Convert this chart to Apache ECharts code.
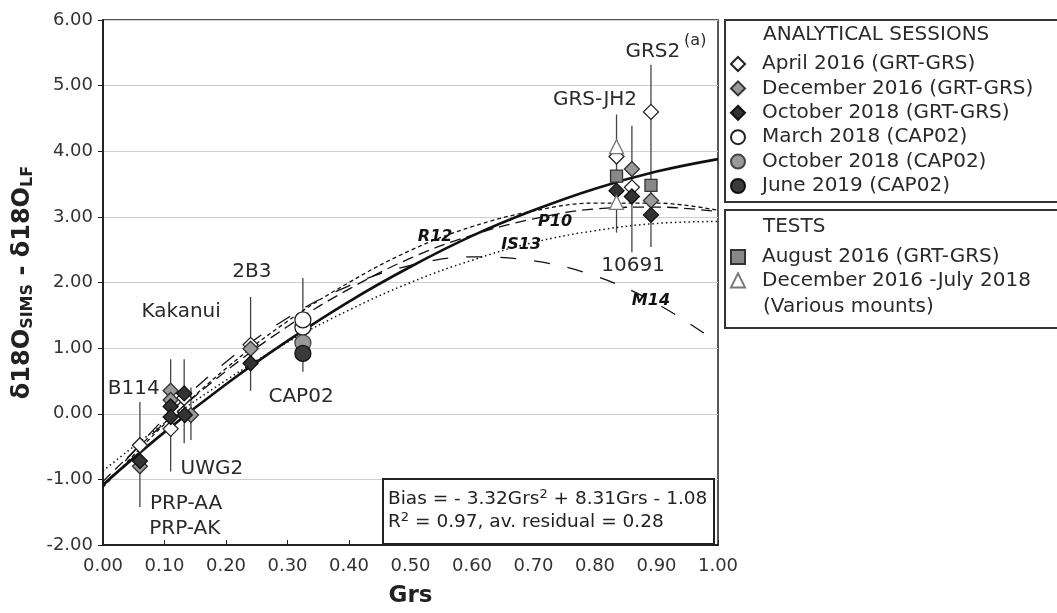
<!DOCTYPE html>
<html>
<head>
<meta charset="utf-8">
<script src="https://cdn.jsdelivr.net/npm/echarts@6/dist/echarts.min.js"></script>
<style>
html, body { margin: 0; padding: 0; background: #fff; }
#chart { width: 1057px; height: 613px; }
</style>
</head>
<body>
<div id="chart"></div>
<script>
var FONT = 'DejaVu Sans';

// axis ticks
var xTicks = [0, 0.1, 0.2, 0.3, 0.4, 0.5, 0.6, 0.7, 0.8, 0.9, 1.0];
var yTicks = [-2, -1, 0, 1, 2, 3, 4, 5, 6];

// curves at Grs = 0, 0.1 ... 1.0
var grsSteps = [0, 0.1, 0.2, 0.3, 0.4, 0.5, 0.6, 0.7, 0.8, 0.9, 1.0];
var biasFit = [-1.08, -0.28, 0.45, 1.11, 1.71, 2.24, 2.71, 3.10, 3.43, 3.69, 3.88];
var r12 = [-1.12, -0.16, 0.69, 1.41, 2.00, 2.49, 2.85, 3.09, 3.21, 3.21, 3.10];
var p10 = [-1.03, -0.14, 0.65, 1.33, 1.90, 2.37, 2.72, 2.97, 3.12, 3.15, 3.08];
var is13 = [-0.87, -0.14, 0.51, 1.09, 1.58, 2.00, 2.34, 2.61, 2.79, 2.90, 2.93];
var m14 = [-1.11, -0.07, 0.79, 1.46, 1.95, 2.26, 2.39, 2.33, 2.10, 1.68, 1.08];

// analytical sessions  [Grs, bias]
var apr2016 = [[0.06, -0.48], [0.11, -0.23], [0.132, 0.24], [0.24, 1.05], [0.835, 3.92], [0.86, 3.45], [0.891, 4.60]];
var dec2016 = [[0.06, -0.80], [0.11, 0.35], [0.11, 0.21], [0.143, -0.02], [0.24, 0.99], [0.86, 3.73], [0.891, 3.25]];
var oct2018g = [[0.06, -0.72], [0.11, 0.11], [0.11, -0.05], [0.132, 0.31], [0.133, -0.02], [0.24, 0.77], [0.835, 3.40], [0.86, 3.31], [0.891, 3.03]];
var mar2018 = [[0.325, 1.32], [0.325, 1.43]];
var oct2018c = [[0.325, 1.08]];
var jun2019 = [[0.325, 0.92]];
// tests
var aug2016 = [[0.835, 3.62], [0.891, 3.48]];
var mounts = [[0.835, 4.07], [0.835, 3.22]];

// error bars [Grs, low, high]
var errorBars = [[0.06, -1.42, 0.18], [0.11, -0.88, 0.83], [0.132, -0.45, 0.83], [0.143, -0.40, 0.40],
  [0.24, 0.35, 1.78], [0.325, 0.64, 2.07], [0.835, 2.76, 4.56], [0.86, 2.46, 4.39], [0.891, 2.54, 5.32]];

// text annotations [text, Grs, bias]
var sampleLabels = [['GRS2', 0.894, 5.51], ['GRS-JH2', 0.80, 4.78], ['10691', 0.862, 2.25], ['2B3', 0.242, 2.16],
  ['Kakanui', 0.127, 1.56], ['B114', 0.05, 0.38], ['UWG2', 0.177, -0.84], ['PRP-AA', 0.135, -1.37],
  ['PRP-AK', 0.133, -1.75], ['CAP02', 0.322, 0.26]];
var curveLabels = [['R12', 0.54, 2.70], ['P10', 0.735, 2.93], ['IS13', 0.68, 2.58], ['M14', 0.891, 1.72]];
var panelLabel = ['(a)', 0.963, 5.68];

var sessionNames = ['April 2016 (GRT-GRS)', 'December 2016 (GRT-GRS)', 'October 2018 (GRT-GRS)',
  'March 2018 (CAP02)', 'October 2018 (CAP02)', 'June 2019 (CAP02)'];
var testNames = ['August 2016 (GRT-GRS)', 'December 2016 -July 2018 (Various mounts)'];

function zip(xs, ys) {
  return xs.map(function (x, i) { return [x, ys[i]]; });
}

function curve(name, ys, width, dash) {
  return {
    name: name, type: 'line', data: zip(grsSteps, ys), smooth: 0.4, symbol: 'none', z: 2,
    lineStyle: { color: '#111', width: width, type: dash }, silent: true
  };
}

function points(name, data, symbol, size, fill, stroke) {
  return {
    name: name, type: 'scatter', data: data, symbol: symbol, symbolSize: size, z: 4,
    itemStyle: { color: fill, borderColor: stroke, borderWidth: 1.3, opacity: 1 }
  };
}

function labels(list, style) {
  return {
    type: 'scatter', symbolSize: 0, z: 5, silent: true, itemStyle: { opacity: 1 },
    data: list.map(function (l) { return { name: l[0], value: [l[1], l[2]] }; }),
    label: Object.assign({ show: true, position: 'inside', formatter: '{b}', fontFamily: FONT, color: '#2a2a2a' }, style)
  };
}

var legendText = { fontFamily: FONT, fontSize: 20, color: '#2a2a2a', lineHeight: 14, padding: [0, 0, 0, 12] };

var myChart = echarts.init(document.getElementById('chart'));

var option = {
  animation: false,
  backgroundColor: '#fff',
  grid: { left: 103, right: 339, top: 20, bottom: 66, show: true, borderColor: '#222', borderWidth: 1.5 },
  xAxis: {
    type: 'value', min: xTicks[0], max: xTicks[xTicks.length - 1], interval: 0.1,
    name: 'Grs', nameLocation: 'middle', nameGap: 40,
    nameTextStyle: { fontFamily: FONT, fontWeight: 'bold', fontSize: 23, color: '#222' },
    axisLine: { onZero: false, lineStyle: { color: '#222', width: 2 } },
    axisTick: { inside: true, length: 5, lineStyle: { color: '#222' } },
    axisLabel: { fontFamily: FONT, fontSize: 18, color: '#333', margin: 12, formatter: function (v) { return v.toFixed(2); } },
    splitLine: { show: false }
  },
  yAxis: {
    type: 'value', min: yTicks[0], max: yTicks[yTicks.length - 1], interval: 1,
    name: '{m|δ18O}{s|SIMS}{m| - δ18O}{s|LF}', nameLocation: 'middle', nameGap: 64,
    nameTextStyle: {
      fontFamily: FONT, fontWeight: 'bold', color: '#222',
      rich: {
        m: { fontFamily: FONT, fontWeight: 'bold', fontSize: 24, lineHeight: 26, color: '#222' },
        s: { fontFamily: FONT, fontWeight: 'bold', fontSize: 16, lineHeight: 8, verticalAlign: 'bottom', color: '#222' }
      }
    },
    axisLine: { show: true, onZero: false, lineStyle: { color: '#222', width: 2 } },
    axisTick: { show: true, length: 5, lineStyle: { color: '#222' } },
    axisLabel: { fontFamily: FONT, fontSize: 18, color: '#333', margin: 10, formatter: function (v) { return v.toFixed(2); } },
    splitLine: { show: true, lineStyle: { color: '#cfcfcf', width: 1.2 } }
  },
  legend: [
    {
      data: sessionNames, orient: 'vertical', left: 725, top: 49, itemWidth: 14, itemHeight: 14, itemGap: 4.4,
      selectedMode: false, textStyle: legendText
    },
    {
      data: testNames, orient: 'vertical', left: 725, top: 242, itemWidth: 14, itemHeight: 14, itemGap: 3.4,
      selectedMode: false, textStyle: legendText,
      formatter: function (n) { return n === testNames[1] ? 'December 2016 -July 2018' : n; }
    }
  ],
  graphic: [
    { type: 'rect', shape: { x: 725, y: 20, width: 340, height: 182 }, style: { fill: 'none', stroke: '#333', lineWidth: 2 } },
    { type: 'rect', shape: { x: 725, y: 210, width: 340, height: 118 }, style: { fill: 'none', stroke: '#333', lineWidth: 2 } },
    { type: 'text', x: 763, y: 35, style: { text: 'ANALYTICAL SESSIONS', font: '20px "DejaVu Sans"', fill: '#2a2a2a', verticalAlign: 'middle' } },
    { type: 'text', x: 763, y: 227, style: { text: 'TESTS', font: '20px "DejaVu Sans"', fill: '#2a2a2a', verticalAlign: 'middle' } },
    { type: 'text', x: 763, y: 307, style: { text: '(Various mounts)', font: '20px "DejaVu Sans"', fill: '#2a2a2a', verticalAlign: 'middle' } },
    { type: 'rect', z: 10, shape: { x: 383, y: 479, width: 331, height: 65 }, style: { fill: '#fff', stroke: '#222', lineWidth: 2 } },
    {
      type: 'text', z: 11, x: 388, y: 488,
      style: {
        text: '{m|Bias = - 3.32Grs}{p|2}{m| + 8.31Grs - 1.08}\n{m|R}{p|2}{m| = 0.97, av. residual = 0.28}',
        fill: '#222',
        rich: {
          m: { fontFamily: FONT, fontSize: 18.5, lineHeight: 23, fill: '#222' },
          p: { fontFamily: FONT, fontSize: 13, lineHeight: 14, verticalAlign: 'top', fill: '#222' }
        }
      }
    }
  ],
  series: [
    {
      name: 'error bars', type: 'custom', z: 1, silent: true, data: errorBars,
      encode: { x: 0, y: [1, 2] },
      renderItem: function (params, api) {
        var a = api.coord([api.value(0), api.value(1)]);
        var b = api.coord([api.value(0), api.value(2)]);
        return { type: 'line', shape: { x1: a[0], y1: a[1], x2: b[0], y2: b[1] }, style: { stroke: '#444', lineWidth: 1.3 } };
      }
    },
    curve('R12', r12, 1.3, [4, 3]),
    curve('P10', p10, 1.3, [11, 6]),
    curve('IS13', is13, 1.5, [1.5, 3]),
    curve('M14', m14, 1.3, [16, 18]),
    curve('Bias', biasFit, 2.6, 'solid'),
    points(sessionNames[0], apr2016, 'diamond', 15, '#fff', '#222'),
    points(sessionNames[1], dec2016, 'diamond', 15, '#9a9a9a', '#333'),
    points(sessionNames[2], oct2018g, 'diamond', 15, '#333', '#111'),
    points(sessionNames[3], mar2018, 'circle', 16, '#fff', '#222'),
    points(sessionNames[4], oct2018c, 'circle', 16, '#999', '#444'),
    points(sessionNames[5], jun2019, 'circle', 16, '#3a3a3a', '#111'),
    points(testNames[0], aug2016, 'rect', 12, '#888', '#333'),
    points(testNames[1], mounts, 'triangle', 14, '#fff', '#777'),
    labels(sampleLabels, { fontSize: 20 }),
    labels(curveLabels, { fontSize: 16, fontWeight: 'bold', fontStyle: 'italic', color: '#111' }),
    labels([panelLabel], { fontSize: 16 })
  ]
};

myChart.setOption(option);
</script>
</body>
</html>
